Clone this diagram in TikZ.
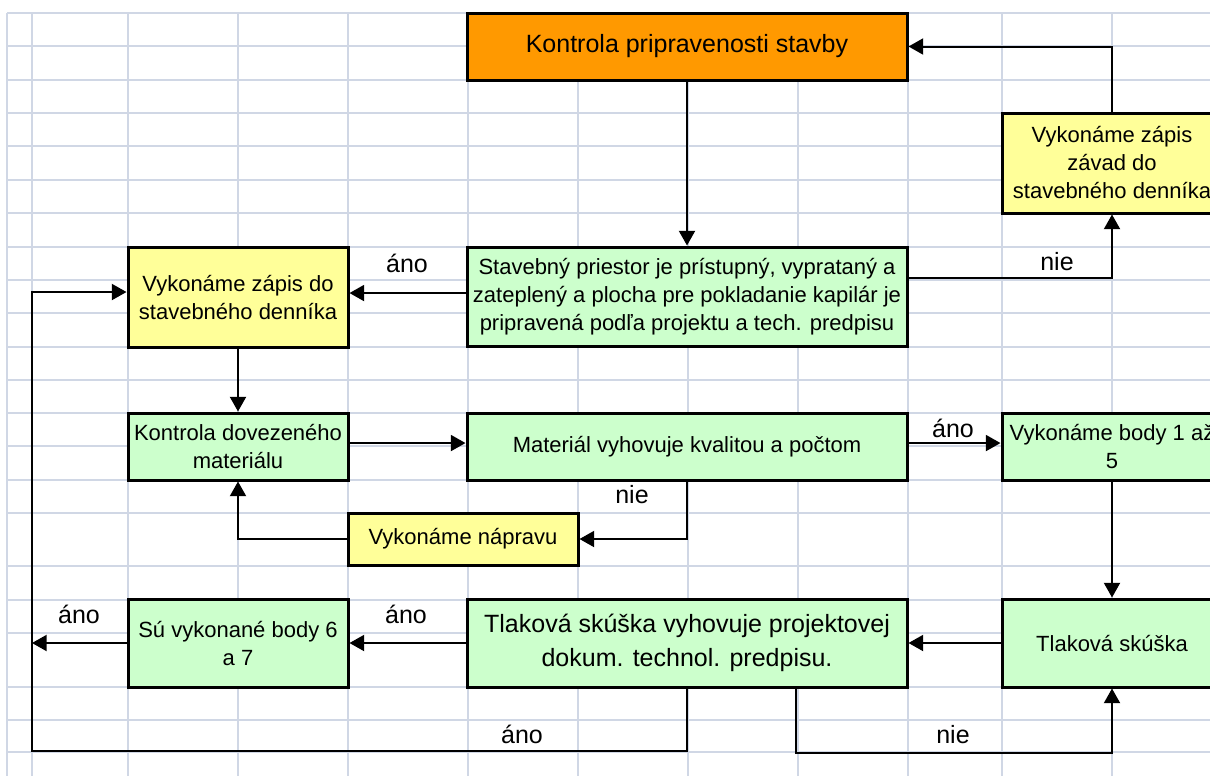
\documentclass[tikz,border=0pt]{standalone}
\usepackage{fontspec}
\setmainfont{Liberation Sans}
\usetikzlibrary{arrows.meta}
\definecolor{gridc}{HTML}{D0D7E5}
\definecolor{orng}{HTML}{FF9900}
\definecolor{yel}{HTML}{FFFF99}
\definecolor{grn}{HTML}{CCFFCC}
\begin{document}
\begin{tikzpicture}[x=0.75pt,y=-0.75pt,
  box/.style={draw=black,line width=2.25pt,inner sep=0pt,align=center,text=black,font=\fontsize{16.5}{21}\selectfont},
  big/.style={font=\fontsize{18.75}{26}\selectfont},
  wide/.style={minimum width=330pt},
  narrow/.style={minimum width=165pt},
  lbl/.style={font=\fontsize{18.75}{22}\selectfont,inner sep=0pt,anchor=base,text=black},
  arr/.style={line width=1.5pt,-{Triangle[length=11pt,width=12pt]}},
  conn/.style={line width=1.5pt},
  gridline/.style={draw=gridc,line width=1.5pt}]
\useasboundingbox (0,0) rectangle (1210,776);
\clip (0,0) rectangle (1210,776);
% spreadsheet grid
\foreach \x in {7,32,128,238,348,468,578,688,798,908,1002,1112}
  \draw[gridline] (\x,13) -- (\x,776);
\foreach \y in {13,46,80,113,146,180,213,247,280,313,347,380,413,446,480,513,566,600,633,687,720,752}
  \draw[gridline] (7,\y) -- (1210,\y);
% boxes
\node[box,big,wide,fill=orng,minimum height=50.25pt] (k1) at (687,46.5) {Kontrola pripravenosti stavby};
\node[box,narrow,fill=yel,minimum height=75pt] (k2) at (1112,163) {Vykonáme zápis\\závad do\\stavebného denníka};
\node[box,wide,fill=grn,minimum height=74.25pt] (k3) at (687,296.5) {Stavebný priestor je prístupný, vyprataný a\\zateplený a plocha pre pokladanie kapilár je\\pripravená podľa projektu a tech. predpisu};
\node[box,narrow,fill=yel,minimum height=75pt] (k4) at (238,297) {Vykonáme zápis do\\stavebného denníka};
\node[box,narrow,fill=grn,minimum height=50.25pt] (k5) at (238,446.5) {Kontrola dovezeného\\materiálu};
\node[box,wide,fill=grn,minimum height=50.25pt] (k6) at (687,446.5) {Materiál vyhovuje kvalitou a počtom};
\node[box,narrow,fill=grn,minimum height=50.25pt] (k7) at (1112,446.5) {Vykonáme body 1 až\\5};
\node[box,fill=yel,minimum width=172.5pt,minimum height=39pt] (k8) at (463,539) {Vykonáme nápravu};
\node[box,narrow,fill=grn,minimum height=66pt] (k9) at (238,643) {Sú vykonané body 6\\a 7};
\node[box,big,wide,fill=grn,minimum height=66pt] (k10) at (687,643) {Tlaková skúška vyhovuje projektovej\\dokum. technol. predpisu.};
\node[box,narrow,fill=grn,minimum height=66pt] (k11) at (1112,643) {Tlaková skúška};
% helper coordinates
\coordinate (b1) at ([yshift=2.6pt]k3.west);
\coordinate (c1) at ([yshift=13.9pt]k3.east);
\coordinate (f1) at ([yshift=2.6pt]k5.east);
\coordinate (g1) at ([yshift=2.6pt]k6.east);
\coordinate (m1) at (32,643);
\coordinate (n1) at (32,751);
\coordinate (n2) at ([yshift=3.75pt]k4.west);
\coordinate (o1) at ([xshift=81.75pt]k10.south);
\coordinate (o2) at (1112,753);
% connectors
\draw[arr] (k1.south) -- (k3.north);
\draw[arr] (b1) -- (b1 -| k4.east);
\draw[arr] (c1) -| (k2.south);
\draw[arr] (k2.north) |- (k1.east);
\draw[arr] (k4.south) -- (k5.north);
\draw[arr] (f1) -- (f1 -| k6.west);
\draw[arr] (g1) -- (g1 -| k7.west);
\draw[arr] (k6.south) |- (k8.east);
\draw[arr] (k8.west) -| (k5.south);
\draw[arr] (k7.south) -- (k11.north);
\draw[arr] (k11.west) -- (k10.east);
\draw[arr] (k10.west) -- (k9.east);
\draw[arr] (k9.west) -- (k9.west -| m1);
\draw[arr] (k10.south) |- (n1) |- (n2);
\draw[arr] (o1) |- (o2) -- (k11.south);
% labels
\node[lbl] (l1) at (407,272) {áno};
\node[lbl] (l2) at (1057,270) {nie};
\node[lbl] (l3) at (953,437) {áno};
\node[lbl] (l4) at (632,503) {nie};
\node[lbl] (l5) at (406,623) {áno};
\node[lbl] (l6) at (79,623) {áno};
\node[lbl] (l7) at (522,743) {áno};
\node[lbl] (l8) at (953,743) {nie};
\end{tikzpicture}
\end{document}
